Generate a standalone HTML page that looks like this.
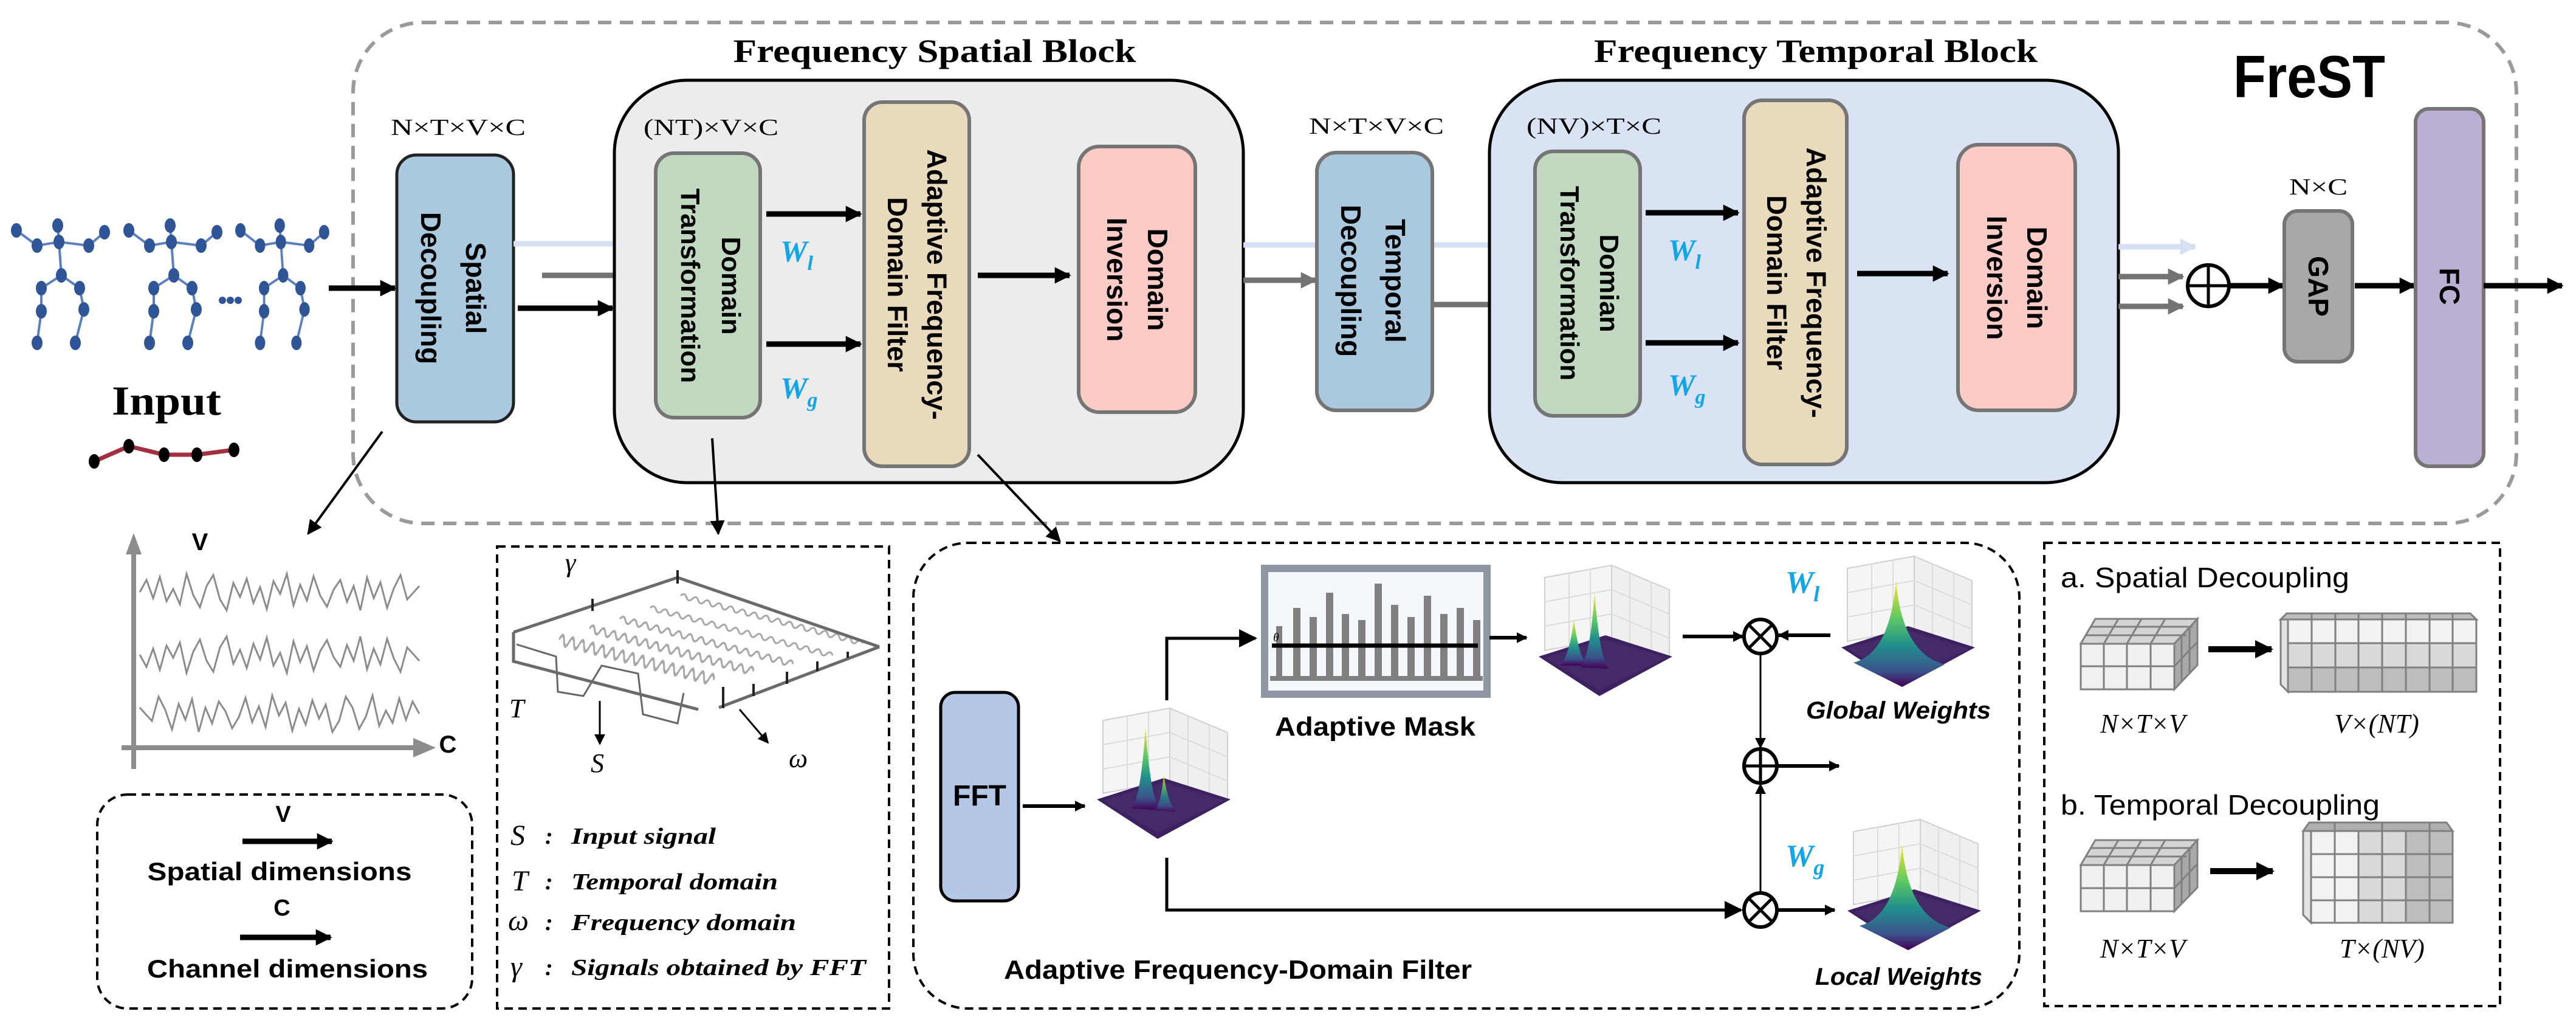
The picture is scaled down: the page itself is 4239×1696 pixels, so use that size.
<!DOCTYPE html>
<html><head><meta charset="utf-8"><style>
html,body{margin:0;padding:0;background:#fff}
svg{display:block}
.sans{font-family:"Liberation Sans",sans-serif}
.serif{font-family:"Liberation Serif",serif}
</style></head><body>
<svg width="4239" height="1696" viewBox="0 0 4239 1696" xmlns="http://www.w3.org/2000/svg">
<defs>
<marker id="ah" viewBox="0 0 10 10" refX="9" refY="5" markerWidth="3" markerHeight="3.2" orient="auto"><path d="M0,0 L10,5 L0,10 Z" fill="#000"/></marker>
<marker id="ahg" viewBox="0 0 10 10" refX="9" refY="5" markerWidth="3" markerHeight="3.2" orient="auto"><path d="M0,0 L10,5 L0,10 Z" fill="#737373"/></marker>
<marker id="ahb" viewBox="0 0 10 10" refX="9" refY="5" markerWidth="3" markerHeight="3.2" orient="auto"><path d="M0,0 L10,5 L0,10 Z" fill="#d6e0f2"/></marker>
<marker id="as" viewBox="0 0 10 10" refX="9" refY="5" markerWidth="6" markerHeight="6" orient="auto"><path d="M0,0 L10,5 L0,10 Z" fill="#000"/></marker>
<linearGradient id="vir" x1="0" y1="0" x2="0" y2="1"><stop offset="0" stop-color="#fde725"/><stop offset="0.35" stop-color="#5ec962"/><stop offset="0.6" stop-color="#21918c"/><stop offset="0.85" stop-color="#3b528b"/><stop offset="1" stop-color="#440154"/></linearGradient>
<g id="plotbase">
<polygon points="30,20 140,0 140,120 30,140" fill="#f5f5f5" stroke="#d0d0d0" stroke-width="2"/>
<polygon points="140,0 235,40 235,150 140,120" fill="#efefef" stroke="#d0d0d0" stroke-width="2"/>
<path d="M30,60 L140,40 L235,80 M30,100 L140,80 L235,120 M70,13 V133 M105,6 V126 M170,13 V130 M205,27 V140" stroke="#dcdcdc" stroke-width="2" fill="none"/>
<polygon points="20,150 130,115 240,150 120,215" fill="#3e2160"/>
<polygon points="30,152 130,122 230,152 120,205" fill="#452a6a"/>
</g>
<g id="skel" fill="#2f5597" stroke="#5b7fbf" stroke-width="4">
<path d="M95,371 L97,398 L101,453 M27,379 L61,404 L97,398 L146,404 L172,382 M101,453 L68,474 L68,512 L61,564 M101,453 L131,474 L138,509 L124,564" fill="none"/>
<ellipse cx="95" cy="371" rx="9" ry="12" stroke="none"/><ellipse cx="27" cy="379" rx="9" ry="12" stroke="none"/><ellipse cx="61" cy="404" rx="9" ry="12" stroke="none"/><ellipse cx="97" cy="398" rx="9" ry="12" stroke="none"/><ellipse cx="146" cy="404" rx="9" ry="12" stroke="none"/><ellipse cx="172" cy="382" rx="9" ry="12" stroke="none"/><ellipse cx="101" cy="453" rx="9" ry="12" stroke="none"/><ellipse cx="68" cy="474" rx="9" ry="12" stroke="none"/><ellipse cx="131" cy="474" rx="9" ry="12" stroke="none"/><ellipse cx="68" cy="512" rx="9" ry="12" stroke="none"/><ellipse cx="138" cy="509" rx="9" ry="12" stroke="none"/><ellipse cx="61" cy="564" rx="9" ry="12" stroke="none"/><ellipse cx="124" cy="564" rx="9" ry="12" stroke="none"/>
</g>
<polyline id="noise" fill="none" stroke="#8c8c8c" stroke-width="3" points="230,0 241,-20 252,10 263,-25 274,15 285,-5 296,20 307,-30 318,5 329,25 340,-10 351,-28 362,12 373,30 384,-15 395,8 406,-22 417,18 428,-8 439,28 450,-18 461,3 472,-30 483,22 494,-12 505,14 516,-26 527,6 538,24 549,-4 560,-20 571,16 582,-10 593,30 604,-24 615,10 626,-16 637,26 648,-6 659,-28 670,12 681,0 690,-10"/>
<path id="wave" d="M0,0 q5,-8 10,0 t10,0 t10,0 t10,0 t10,0 t10,0 t10,0 t10,0 t10,0 t10,0 t10,0 t10,0 t10,0 t10,0 t10,0 t10,0 t10,0 t10,0 t10,0 t10,0 t10,0 t10,0 t10,0 t10,0 t10,0 t10,0 t10,0 t10,0 t10,0 t10,0 t10,0" fill="none" stroke="#a8a8a8" stroke-width="3"/>
</defs>

<!-- outer dashed -->
<rect x="581" y="37" width="3560" height="824" rx="115" fill="none" stroke="#9a9a9a" stroke-width="6" stroke-dasharray="22,14"/>

<!-- input skeletons -->
<use href="#skel"/>
<use href="#skel" transform="translate(185,0)"/>
<use href="#skel" transform="translate(370,0) scale(0.95,1)"/>
<g fill="#2f5597"><circle cx="366" cy="494" r="6"/><circle cx="379" cy="494" r="6"/><circle cx="392" cy="494" r="6"/></g>
<text x="274" y="682" text-anchor="middle" class="serif" font-weight="bold" font-size="68" textLength="180" lengthAdjust="spacingAndGlyphs">Input</text>
<polyline points="155,759 212,734 270,748 324,748 385,740" fill="none" stroke="#a33040" stroke-width="7"/>
<g fill="#000"><ellipse cx="155" cy="759" rx="9" ry="12"/><ellipse cx="212" cy="734" rx="9" ry="12"/><ellipse cx="270" cy="748" rx="9" ry="12"/><ellipse cx="324" cy="748" rx="9" ry="12"/><ellipse cx="385" cy="740" rx="9" ry="12"/></g>
<line x1="541" y1="474" x2="650" y2="474" stroke="#000" stroke-width="9" marker-end="url(#ah)"/>

<!-- Spatial decoupling -->
<text x="754" y="222" text-anchor="middle" class="serif" font-size="38" textLength="222" lengthAdjust="spacingAndGlyphs">N×T×V×C</text>
<rect x="653" y="255" width="192" height="439" rx="32" fill="#abc9de" stroke="#222" stroke-width="5"/>
<g class="sans" font-weight="bold" font-size="46" text-anchor="middle">
<text transform="translate(767,474) rotate(90)">Spatial</text>
<text transform="translate(693,474) rotate(90)">Decoupling</text>
</g>
<line x1="845" y1="401" x2="1011" y2="401" stroke="#d6e0f2" stroke-width="9"/>
<line x1="892" y1="453" x2="1011" y2="453" stroke="#737373" stroke-width="9"/>
<line x1="852" y1="507" x2="1008" y2="507" stroke="#000" stroke-width="9" marker-end="url(#ah)"/>

<!-- Frequency Spatial Block -->
<text x="1538" y="102" text-anchor="middle" class="serif" font-weight="bold" font-size="54" textLength="663" lengthAdjust="spacingAndGlyphs">Frequency Spatial Block</text>
<rect x="1011" y="132" width="1035" height="662" rx="120" fill="#ececec" stroke="#000" stroke-width="5"/>
<text x="1059" y="222" class="serif" font-size="38" textLength="222" lengthAdjust="spacingAndGlyphs">(NT)×V×C</text>
<rect x="1079" y="252" width="172" height="435" rx="30" fill="#c0d7c0" stroke="#757575" stroke-width="6"/>
<g class="sans" font-weight="bold" font-size="44" text-anchor="middle">
<text transform="translate(1188,470) rotate(90)">Domain</text>
<text transform="translate(1121,470) rotate(90)">Transformation</text>
</g>
<line x1="1261" y1="352" x2="1416" y2="352" stroke="#000" stroke-width="9" marker-end="url(#ah)"/>
<line x1="1261" y1="566" x2="1416" y2="566" stroke="#000" stroke-width="9" marker-end="url(#ah)"/>
<text x="1284" y="430" class="serif" font-style="italic" font-weight="bold" font-size="50" fill="#12a5e8">W<tspan font-size="34" dy="14">l</tspan></text>
<text x="1284" y="655" class="serif" font-style="italic" font-weight="bold" font-size="50" fill="#12a5e8">W<tspan font-size="34" dy="14">g</tspan></text>
<rect x="1422" y="168" width="173" height="599" rx="30" fill="#e8dabb" stroke="#757575" stroke-width="6"/>
<g class="sans" font-weight="bold" font-size="45" text-anchor="middle">
<text transform="translate(1526,468) rotate(90)">Adaptive Frequency-</text>
<text transform="translate(1461,468) rotate(90)">Domain Filter</text>
</g>
<line x1="1609" y1="453" x2="1760" y2="453" stroke="#000" stroke-width="9" marker-end="url(#ah)"/>
<rect x="1775" y="241" width="192" height="437" rx="34" fill="#fccbc6" stroke="#757575" stroke-width="6"/>
<g class="sans" font-weight="bold" font-size="46" text-anchor="middle">
<text transform="translate(1889,460) rotate(90)">Domain</text>
<text transform="translate(1822,460) rotate(90)">Inversion</text>
</g>

<!-- between blocks -->
<line x1="2046" y1="403" x2="2451" y2="403" stroke="#d6e0f2" stroke-width="9"/>
<line x1="2046" y1="461" x2="2165" y2="461" stroke="#737373" stroke-width="9" marker-end="url(#ahg)"/>
<text x="2265" y="220" text-anchor="middle" class="serif" font-size="38" textLength="222" lengthAdjust="spacingAndGlyphs">N×T×V×C</text>
<rect x="2167" y="251" width="190" height="424" rx="32" fill="#abc9de" stroke="#757575" stroke-width="6"/>
<g class="sans" font-weight="bold" font-size="46" text-anchor="middle">
<text transform="translate(2280,462) rotate(90)">Temporal</text>
<text transform="translate(2207,462) rotate(90)">Decoupling</text>
</g>
<line x1="2357" y1="501" x2="2451" y2="501" stroke="#737373" stroke-width="9"/>

<!-- Frequency Temporal Block -->
<text x="2988" y="102" text-anchor="middle" class="serif" font-weight="bold" font-size="54" textLength="730" lengthAdjust="spacingAndGlyphs">Frequency Temporal Block</text>
<rect x="2451" y="132" width="1035" height="662" rx="120" fill="#dae3f3" stroke="#000" stroke-width="5"/>
<text x="2512" y="220" class="serif" font-size="38" textLength="222" lengthAdjust="spacingAndGlyphs">(NV)×T×C</text>
<rect x="2526" y="249" width="173" height="435" rx="30" fill="#c0d7c0" stroke="#757575" stroke-width="6"/>
<g class="sans" font-weight="bold" font-size="44" text-anchor="middle">
<text transform="translate(2633,466) rotate(90)">Domian</text>
<text transform="translate(2568,466) rotate(90)">Transformation</text>
</g>
<line x1="2708" y1="350" x2="2860" y2="350" stroke="#000" stroke-width="9" marker-end="url(#ah)"/>
<line x1="2708" y1="564" x2="2860" y2="564" stroke="#000" stroke-width="9" marker-end="url(#ah)"/>
<text x="2745" y="428" class="serif" font-style="italic" font-weight="bold" font-size="50" fill="#12a5e8">W<tspan font-size="34" dy="14">l</tspan></text>
<text x="2745" y="650" class="serif" font-style="italic" font-weight="bold" font-size="50" fill="#12a5e8">W<tspan font-size="34" dy="14">g</tspan></text>
<rect x="2870" y="165" width="169" height="599" rx="30" fill="#e8dabb" stroke="#757575" stroke-width="6"/>
<g class="sans" font-weight="bold" font-size="45" text-anchor="middle">
<text transform="translate(2973,465) rotate(90)">Adaptive Frequency-</text>
<text transform="translate(2908,465) rotate(90)">Domain Filter</text>
</g>
<line x1="3056" y1="450" x2="3205" y2="450" stroke="#000" stroke-width="9" marker-end="url(#ah)"/>
<rect x="3222" y="238" width="193" height="437" rx="34" fill="#fccbc6" stroke="#757575" stroke-width="6"/>
<g class="sans" font-weight="bold" font-size="46" text-anchor="middle">
<text transform="translate(3336,457) rotate(90)">Domain</text>
<text transform="translate(3270,457) rotate(90)">Inversion</text>
</g>

<!-- right side -->
<line x1="3486" y1="406" x2="3612" y2="406" stroke="#d6e0f2" stroke-width="9" marker-end="url(#ahb)"/>
<line x1="3486" y1="455" x2="3592" y2="455" stroke="#737373" stroke-width="9" marker-end="url(#ahg)"/>
<line x1="3486" y1="504" x2="3592" y2="504" stroke="#737373" stroke-width="9" marker-end="url(#ahg)"/>
<circle cx="3634" cy="470" r="34" fill="none" stroke="#000" stroke-width="6"/>
<path d="M3600,470 H3668 M3634,436 V504" stroke="#000" stroke-width="5"/>
<line x1="3668" y1="470" x2="3757" y2="470" stroke="#000" stroke-width="9" marker-end="url(#ah)"/>
<text x="3815" y="320" text-anchor="middle" class="serif" font-size="38" textLength="96" lengthAdjust="spacingAndGlyphs">N×C</text>
<rect x="3759" y="347" width="112" height="248" rx="22" fill="#aaa8a6" stroke="#757575" stroke-width="6"/>
<text transform="translate(3799,471) rotate(90)" text-anchor="middle" class="sans" font-weight="bold" font-size="46">GAP</text>
<line x1="3875" y1="470" x2="3973" y2="470" stroke="#000" stroke-width="9" marker-end="url(#ah)"/>
<rect x="3975" y="179" width="112" height="588" rx="22" fill="#bbafd3" stroke="#757575" stroke-width="6"/>
<text transform="translate(4015,471) rotate(90)" text-anchor="middle" class="sans" font-weight="bold" font-size="46">FC</text>
<line x1="4087" y1="470" x2="4216" y2="470" stroke="#000" stroke-width="9" marker-end="url(#ah)"/>
<text x="3675" y="160" class="sans" font-weight="bold" font-size="98" textLength="250" lengthAdjust="spacingAndGlyphs">FreST</text>

<!-- connector lines to lower panels -->
<line x1="629" y1="710" x2="507" y2="878" stroke="#000" stroke-width="4" marker-end="url(#as)"/>
<line x1="1172" y1="721" x2="1182" y2="878" stroke="#000" stroke-width="4" marker-end="url(#as)"/>
<line x1="1609" y1="748" x2="1744" y2="890" stroke="#000" stroke-width="4" marker-end="url(#as)"/>

<!-- signal plot -->
<line x1="220" y1="1265" x2="220" y2="905" stroke="#8c8c8c" stroke-width="8"/>
<polygon points="220,877 207,912 233,912" fill="#8c8c8c"/>
<line x1="200" y1="1230" x2="690" y2="1230" stroke="#8c8c8c" stroke-width="8"/>
<polygon points="717,1230 680,1214 680,1246" fill="#8c8c8c"/>
<text x="329" y="905" text-anchor="middle" class="sans" font-weight="bold" font-size="40">V</text>
<text x="737" y="1238" text-anchor="middle" class="sans" font-weight="bold" font-size="40">C</text>
<use href="#noise" transform="translate(0,974)"/>
<use href="#noise" transform="translate(0,1077) scale(1,-1)"/>
<use href="#noise" transform="translate(920,1174) scale(-1,1)"/>

<!-- legend box -->
<rect x="160" y="1307" width="617" height="352" rx="50" fill="none" stroke="#000" stroke-width="4" stroke-dasharray="14,9"/>
<text x="466" y="1352" text-anchor="middle" class="sans" font-weight="bold" font-size="38">V</text>
<line x1="399" y1="1384" x2="546" y2="1384" stroke="#000" stroke-width="9" marker-end="url(#ah)"/>
<text x="460" y="1448" text-anchor="middle" class="sans" font-weight="bold" font-size="42" textLength="435" lengthAdjust="spacingAndGlyphs">Spatial dimensions</text>
<text x="464" y="1506" text-anchor="middle" class="sans" font-weight="bold" font-size="38">C</text>
<line x1="395" y1="1542" x2="544" y2="1542" stroke="#000" stroke-width="9" marker-end="url(#ah)"/>
<text x="473" y="1608" text-anchor="middle" class="sans" font-weight="bold" font-size="42" textLength="462" lengthAdjust="spacingAndGlyphs">Channel dimensions</text>

<!-- middle box -->
<rect x="818" y="899" width="645" height="760" fill="none" stroke="#000" stroke-width="4" stroke-dasharray="14,9"/>
<g>
<use href="#wave" transform="translate(1120,980) rotate(14.6)"/>
<use href="#wave" transform="translate(1070,1000) rotate(14.6)"/>
<use href="#wave" transform="translate(1020,1018) rotate(14.6) scale(0.95,1.2)"/>
<use href="#wave" transform="translate(970,1034) rotate(14.6) scale(0.9,1.5)"/>
<use href="#wave" transform="translate(920,1052) rotate(14.6) scale(0.85,2)"/>
<path d="M850,1060 L915,1080 L918,1138 L960,1145 L990,1095 L1050,1108 L1058,1175 L1115,1190 L1125,1140" fill="none" stroke="#666" stroke-width="3"/>
<path d="M845,1040 L1115,950 M1115,950 L1447,1064 M845,1040 L845,1088 L1149,1167 M1183,1164 L1447,1064" fill="none" stroke="#6a6a6a" stroke-width="5"/>
<path d="M1115,938 V960 M975,985 V1005 M1190,1130 V1165 M1240,1125 V1145 M1295,1105 V1125 M1345,1088 V1104 M1395,1072 V1082" stroke="#222" stroke-width="4"/>
</g>
<line x1="987" y1="1153" x2="987" y2="1224" stroke="#000" stroke-width="3" marker-end="url(#as)"/>
<line x1="1217" y1="1167" x2="1264" y2="1222" stroke="#000" stroke-width="3" marker-end="url(#as)"/>
<g class="serif" font-style="italic" font-size="44">
<text x="930" y="940">γ</text>
<text x="838" y="1180">T</text>
<text x="972" y="1270">S</text>
<text x="1298" y="1262">ω</text>
</g>
<g class="serif" font-style="italic" font-weight="bold" font-size="38">
<text x="840" y="1390" font-size="48" font-weight="normal">S</text><text x="897" y="1388">:</text><text x="940" y="1388" textLength="238" lengthAdjust="spacingAndGlyphs">Input signal</text>
<text x="842" y="1465" font-size="48" font-weight="normal">T</text><text x="897" y="1463">:</text><text x="940" y="1463" textLength="340" lengthAdjust="spacingAndGlyphs">Temporal domain</text>
<text x="836" y="1530" font-size="48" font-weight="normal">ω</text><text x="897" y="1530">:</text><text x="940" y="1530" textLength="370" lengthAdjust="spacingAndGlyphs">Frequency domain</text>
<text x="840" y="1606" font-size="48" font-weight="normal">γ</text><text x="897" y="1604">:</text><text x="940" y="1604" textLength="485" lengthAdjust="spacingAndGlyphs">Signals obtained by FFT</text>
</g>

<!-- AFDF panel -->
<rect x="1503" y="893" width="1820" height="766" rx="90" fill="none" stroke="#000" stroke-width="4" stroke-dasharray="14,9"/>
<rect x="1548" y="1139" width="128" height="343" rx="24" fill="#b4c7e7" stroke="#000" stroke-width="5"/>
<text x="1612" y="1325" text-anchor="middle" class="sans" font-weight="bold" font-size="48">FFT</text>
<line x1="1683" y1="1326" x2="1785" y2="1326" stroke="#000" stroke-width="6" marker-end="url(#ah)"/>
<g transform="translate(1785,1165)">
<use href="#plotbase"/>
<path d="M75,165 Q92,155 100,30 Q108,150 125,168 Z" fill="url(#vir)"/>
<path d="M115,168 Q125,160 130,110 Q138,160 150,170 Z" fill="url(#vir)" opacity="0.8"/>
</g>
<path d="M1920,1152 V1050 H2066" fill="none" stroke="#000" stroke-width="5" marker-end="url(#as)"/>
<path d="M1920,1411 V1497 H2865" fill="none" stroke="#000" stroke-width="5" marker-end="url(#as)"/>
<rect x="2081" y="935" width="366" height="207" fill="#f3f7fb" stroke="#8e96a3" stroke-width="12"/>
<g fill="#808080">
<rect x="2100" y="1030" width="10" height="85"/><rect x="2128" y="1000" width="12" height="115"/><rect x="2155" y="1015" width="12" height="100"/><rect x="2182" y="975" width="12" height="140"/><rect x="2208" y="1010" width="12" height="105"/><rect x="2235" y="1020" width="12" height="95"/><rect x="2262" y="960" width="12" height="155"/><rect x="2289" y="995" width="12" height="120"/><rect x="2316" y="1015" width="12" height="100"/><rect x="2343" y="980" width="12" height="135"/><rect x="2370" y="1010" width="12" height="105"/><rect x="2397" y="1000" width="12" height="115"/><rect x="2424" y="1020" width="12" height="95"/>
<rect x="2090" y="1112" width="350" height="8"/>
</g>
<line x1="2093" y1="1062" x2="2432" y2="1062" stroke="#000" stroke-width="7"/>
<text x="2095" y="1055" class="serif" font-style="italic" font-size="20">θ</text>
<text x="2428" y="1210" text-anchor="end" class="sans" font-weight="bold" font-size="44" textLength="330" lengthAdjust="spacingAndGlyphs">Adaptive Mask</text>
<line x1="2451" y1="1049" x2="2512" y2="1049" stroke="#000" stroke-width="6" marker-end="url(#ah)"/>
<g transform="translate(2512,930)">
<use href="#plotbase"/>
<path d="M55,165 Q70,150 78,90 Q86,150 100,165 Z" fill="url(#vir)"/>
<path d="M88,168 Q105,150 112,45 Q120,150 135,170 Z" fill="url(#vir)"/>
</g>
<line x1="2769" y1="1047" x2="2868" y2="1047" stroke="#000" stroke-width="6" marker-end="url(#ah)"/>
<g stroke="#000" stroke-width="6" fill="#fff">
<ellipse cx="2897" cy="1047" rx="27" ry="28"/>
<ellipse cx="2897" cy="1260" rx="27" ry="28"/>
<ellipse cx="2897" cy="1497" rx="27" ry="28"/>
</g>
<path d="M2878,1028 L2916,1066 M2916,1028 L2878,1066 M2870,1260 H2924 M2897,1233 V1287 M2878,1478 L2916,1516 M2916,1478 L2878,1516" stroke="#000" stroke-width="5"/>
<line x1="2897" y1="1075" x2="2897" y2="1230" stroke="#000" stroke-width="3" marker-end="url(#as)"/>
<line x1="2897" y1="1469" x2="2897" y2="1290" stroke="#000" stroke-width="3" marker-end="url(#as)"/>
<line x1="2924" y1="1260" x2="3026" y2="1260" stroke="#000" stroke-width="6" marker-end="url(#ah)"/>
<line x1="3012" y1="1045" x2="2927" y2="1045" stroke="#000" stroke-width="6" marker-end="url(#ah)"/>
<line x1="2924" y1="1497" x2="3019" y2="1497" stroke="#000" stroke-width="6" marker-end="url(#ah)"/>
<g transform="translate(3010,915)">
<use href="#plotbase"/>
<path d="M40,175 Q100,160 110,40 Q120,160 190,178 L120,215 Z" fill="url(#vir)"/>
</g>
<g transform="translate(3020,1348)">
<use href="#plotbase"/>
<path d="M40,175 Q100,160 110,40 Q120,160 190,178 L120,215 Z" fill="url(#vir)"/>
</g>
<text x="2938" y="975" class="serif" font-style="italic" font-weight="bold" font-size="52" fill="#12a5e8">W<tspan font-size="36" dy="14">l</tspan></text>
<text x="2938" y="1425" class="serif" font-style="italic" font-weight="bold" font-size="52" fill="#12a5e8">W<tspan font-size="36" dy="14">g</tspan></text>
<text x="2972" y="1182" class="sans" font-style="italic" font-weight="bold" font-size="40" textLength="304" lengthAdjust="spacingAndGlyphs">Global Weights</text>
<text x="2987" y="1620" class="sans" font-style="italic" font-weight="bold" font-size="40" textLength="275" lengthAdjust="spacingAndGlyphs">Local Weights</text>
<text x="1652" y="1610" class="sans" font-weight="bold" font-size="44" textLength="770" lengthAdjust="spacingAndGlyphs">Adaptive Frequency-Domain Filter</text>

<!-- right panel -->
<rect x="3364" y="893" width="750" height="762" fill="none" stroke="#000" stroke-width="4" stroke-dasharray="14,9"/>
<text x="3391" y="966" class="sans" font-size="46" textLength="475" lengthAdjust="spacingAndGlyphs">a. Spatial Decoupling</text>
<text x="3391" y="1340" class="sans" font-size="46" textLength="525" lengthAdjust="spacingAndGlyphs">b. Temporal Decoupling</text>
<!-- cube a -->
<g stroke="#808080" stroke-width="3">
<polygon points="3424,1059 3448,1018 3616,1018 3578,1059" fill="#d4d4d4"/>
<polygon points="3578,1059 3616,1018 3616,1094 3578,1134" fill="#a9a9a9"/>
<path d="M3432,1045 H3598 M3440,1031 H3608 M3462,1059 L3486,1018 M3500,1059 L3524,1018 M3539,1059 L3563,1018 M3590,1046 V1121 M3603,1032 V1108 M3578,1096 L3616,1056" fill="none"/>
<rect x="3424" y="1059" width="154" height="75" fill="#f0f0f0"/>
<path d="M3424,1096 H3578 M3462,1059 V1134 M3500,1059 V1134 M3539,1059 V1134" fill="none"/>
</g>
<line x1="3634" y1="1068" x2="3738" y2="1068" stroke="#000" stroke-width="10" marker-end="url(#ah)"/>
<g stroke="#808080" stroke-width="3">
<polygon points="3753,1019 3763,1009 4065,1009 4075,1019" fill="#bdbdbd"/>
<polygon points="3753,1019 3765,1019 3765,1138 3753,1126" fill="#e3e3e3"/>
<rect x="3765" y="1019" width="310" height="39" fill="#f2f2f2"/>
<rect x="3765" y="1058" width="310" height="40" fill="#d9d9d9"/>
<rect x="3765" y="1098" width="310" height="40" fill="#bdbdbd"/>
<path d="M3804,1009 V1138 M3843,1009 V1138 M3881,1009 V1138 M3920,1009 V1138 M3959,1009 V1138 M3998,1009 V1138 M4036,1009 V1138" fill="none"/>
</g>
<text x="3526" y="1205" text-anchor="middle" class="serif" font-style="italic" font-size="44">N×T×V</text>
<text x="3911" y="1205" text-anchor="middle" class="serif" font-style="italic" font-size="44">V×(NT)</text>
<!-- cube b -->
<g stroke="#808080" stroke-width="3">
<polygon points="3424,1423 3448,1382 3616,1382 3578,1423" fill="#d4d4d4"/>
<polygon points="3578,1423 3616,1382 3616,1460 3578,1499" fill="#a9a9a9"/>
<path d="M3432,1409 H3598 M3440,1395 H3608 M3462,1423 L3486,1382 M3500,1423 L3524,1382 M3539,1423 L3563,1382 M3590,1410 V1486 M3603,1396 V1472 M3578,1461 L3616,1421" fill="none"/>
<rect x="3424" y="1423" width="154" height="76" fill="#f0f0f0"/>
<path d="M3424,1461 H3578 M3462,1423 V1499 M3500,1423 V1499 M3539,1423 V1499" fill="none"/>
</g>
<line x1="3637" y1="1433" x2="3740" y2="1433" stroke="#000" stroke-width="10" marker-end="url(#ah)"/>
<g stroke="#808080" stroke-width="3">
<polygon points="3790,1367 3800,1353 4026,1353 4036,1367" fill="#b0b0b0"/>
<polygon points="3790,1367 3803,1367 3803,1518 3790,1505" fill="#e3e3e3"/>
<rect x="3803" y="1367" width="78" height="151" fill="#f2f2f2"/>
<rect x="3881" y="1367" width="78" height="151" fill="#d9d9d9"/>
<rect x="3959" y="1367" width="77" height="151" fill="#bdbdbd"/>
<path d="M3842,1353 V1518 M3920,1353 V1518 M3998,1353 V1518 M3803,1405 H4036 M3803,1443 H4036 M3803,1481 H4036" fill="none"/>
</g>
<text x="3526" y="1575" text-anchor="middle" class="serif" font-style="italic" font-size="44">N×T×V</text>
<text x="3920" y="1575" text-anchor="middle" class="serif" font-style="italic" font-size="44">T×(NV)</text>
</svg>
</body></html>
